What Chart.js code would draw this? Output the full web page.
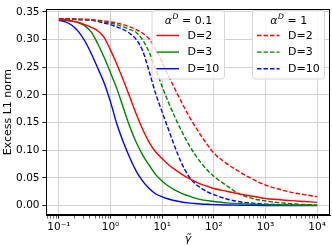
<!DOCTYPE html>
<html>
<head>
<meta charset="utf-8">
<script src="https://cdn.jsdelivr.net/npm/chart.js@4.4.0/dist/chart.umd.min.js"></script>
<style>
  html, body { margin: 0; padding: 0; background: #fff; }
  #wrap { width: 332px; height: 246px; }
</style>
</head>
<body>
<div id="wrap"><canvas id="myChart" width="332" height="246"></canvas></div>
<script>
// gamma tilde sample points (log axis)
var gamma = [0.1, 0.133, 0.178, 0.237, 0.316, 0.422, 0.562, 0.75, 1, 1.33, 1.78, 2.37, 3.16, 4.22, 5.62, 7.5,
  10, 13.3, 17.8, 23.7, 31.6, 42.2, 56.2, 75, 100, 178, 316, 562, 1000, 1778, 3162, 5623, 10000];

// alpha^D = 0.1 (solid)
var lowD2 = [0.337, 0.336, 0.334, 0.331, 0.327, 0.322, 0.316, 0.304, 0.281, 0.255, 0.226, 0.196, 0.165, 0.137, 0.114, 0.097,
  0.085, 0.074, 0.065, 0.057, 0.050, 0.044, 0.039, 0.035, 0.031, 0.026, 0.021, 0.017, 0.013, 0.011, 0.009, 0.0075, 0.006];
var lowD3 = [0.336, 0.335, 0.333, 0.331, 0.325, 0.314, 0.293, 0.268, 0.240, 0.211, 0.176, 0.142, 0.114, 0.091, 0.073, 0.056,
  0.044, 0.035, 0.028, 0.022, 0.018, 0.014, 0.011, 0.009, 0.0075, 0.005, 0.0035, 0.0025, 0.0018, 0.0013, 0.001, 0.0007, 0.0005];
var lowD10 = [0.335, 0.332, 0.326, 0.315, 0.298, 0.275, 0.249, 0.222, 0.187, 0.147, 0.114, 0.086, 0.062, 0.044, 0.031, 0.021,
  0.016, 0.012, 0.0088, 0.0066, 0.005, 0.0039, 0.003, 0.0024, 0.0019, 0.0012, 0.0008, 0.0005, 0.0003, 0.0002, 0.0001, 0.0001, 0.0001];

// alpha^D = 1 (dashed)
var highD2 = [0.338, 0.338, 0.338, 0.337, 0.337, 0.336, 0.335, 0.334, 0.332, 0.330, 0.327, 0.323, 0.318, 0.311, 0.301, 0.282,
  0.259, 0.234, 0.210, 0.187, 0.165, 0.145, 0.127, 0.110, 0.095, 0.076, 0.061, 0.048, 0.037, 0.030, 0.024, 0.020, 0.016];
var highD3 = [0.338, 0.338, 0.337, 0.337, 0.336, 0.335, 0.334, 0.332, 0.330, 0.327, 0.323, 0.318, 0.313, 0.299, 0.277, 0.247,
  0.215, 0.186, 0.159, 0.135, 0.113, 0.094, 0.078, 0.064, 0.053, 0.036, 0.021, 0.013, 0.0085, 0.0055, 0.0035, 0.002, 0.0012];
var highD10 = [0.337, 0.337, 0.337, 0.336, 0.336, 0.335, 0.333, 0.330, 0.327, 0.323, 0.318, 0.311, 0.300, 0.279, 0.242, 0.202,
  0.169, 0.137, 0.105, 0.077, 0.055, 0.041, 0.032, 0.025, 0.020, 0.012, 0.007, 0.0045, 0.0028, 0.0018, 0.0011, 0.0007, 0.0004];

var dLabels = ['D=2', 'D=3', 'D=10'];
var alphaValues = ['0.1', '1'];
var xMajor = [0.1, 1, 10, 100, 1000, 10000];
var xTickLabels = ['10\u207B\u00B9', '10\u2070', '10\u00B9', '10\u00B2', '10\u00B3', '10\u2074'];
var yTicks = [0, 0.05, 0.10, 0.15, 0.20, 0.25, 0.30, 0.35];

var colors = ['#ff0000', '#008000', '#0000ff'];
var gridColor = '#d3d3d3';

function pts(values) {
  return gamma.map(function (g, i) { return { x: g, y: values[i] }; });
}

function line(label, values, color, dashed) {
  return {
    label: label,
    data: pts(values),
    borderColor: color,
    borderWidth: 1.4,
    borderDash: dashed ? [4.5, 2] : [],
    pointRadius: 0,
    fill: false,
    cubicInterpolationMode: 'monotone'
  };
}

Chart.defaults.font.family = '"DejaVu Sans", sans-serif';
Chart.defaults.color = '#000';

// frame around the plot area
var framePlugin = {
  id: 'frame',
  afterDraw: function (chart) {
    var a = chart.chartArea, ctx = chart.ctx;
    ctx.save();
    ctx.strokeStyle = '#000';
    ctx.lineWidth = 1;
    ctx.strokeRect(Math.round(a.left) + 0.5, Math.round(a.top) + 0.5,
      Math.round(a.right - a.left) - 1, Math.round(a.bottom - a.top) - 1);
    ctx.restore();
  }
};

function drawAlphaTitle(ctx, cx, cy, valueText) {
  var f = 11;
  var rest = ' = ' + valueText;
  ctx.font = 'italic ' + f + 'px "DejaVu Sans"';
  var wa = ctx.measureText('\u03B1').width;
  ctx.font = 'italic ' + (f * 0.7) + 'px "DejaVu Sans"';
  var wd = ctx.measureText('D').width;
  ctx.font = f + 'px "DejaVu Sans"';
  var wr = ctx.measureText(rest).width;
  var x = cx - (wa + wd + wr) / 2;
  var base = cy + 4;
  ctx.textBaseline = 'alphabetic';
  ctx.textAlign = 'left';
  ctx.font = 'italic ' + f + 'px "DejaVu Sans"';
  ctx.fillText('\u03B1', x, base);
  ctx.font = 'italic ' + (f * 0.7) + 'px "DejaVu Sans"';
  ctx.fillText('D', x + wa + 0.5, base - 4.5);
  ctx.font = f + 'px "DejaVu Sans"';
  ctx.fillText(rest, x + wa + wd + 0.5, base);
}

// two legend boxes, one per alpha^D value
var legendPlugin = {
  id: 'twoLegends',
  afterDraw: function (chart) {
    var ctx = chart.ctx;
    var boxes = [
      { left: 152, right: 224.5, items: [0, 1, 2], title: alphaValues[0] },
      { left: 252.5, right: 324.5, items: [3, 4, 5], title: alphaValues[1] }
    ];
    var top = 10.5, bottom = 79;
    boxes.forEach(function (b) {
      ctx.save();
      ctx.beginPath();
      if (ctx.roundRect) ctx.roundRect(b.left, top, b.right - b.left, bottom - top, 3);
      else ctx.rect(b.left, top, b.right - b.left, bottom - top);
      ctx.fillStyle = 'rgba(255,255,255,0.8)';
      ctx.fill();
      ctx.strokeStyle = '#d6d6d6';
      ctx.lineWidth = 1;
      ctx.stroke();
      ctx.fillStyle = '#000';
      drawAlphaTitle(ctx, (b.left + b.right) / 2, 19.5, b.title);
      b.items.forEach(function (di, k) {
        var ds = chart.data.datasets[di];
        var y = 35.5 + k * 16.6;
        ctx.beginPath();
        ctx.setLineDash(ds.borderDash);
        ctx.strokeStyle = ds.borderColor;
        ctx.lineWidth = 1.4;
        ctx.moveTo(b.left + 4.5, y);
        ctx.lineTo(b.left + 27, y);
        ctx.stroke();
        ctx.setLineDash([]);
        ctx.fillStyle = '#000';
        ctx.font = '11px "DejaVu Sans"';
        ctx.textBaseline = 'middle';
        ctx.textAlign = 'left';
        ctx.fillText(ds.label, b.left + 35.5, y + 0.5);
      });
      ctx.restore();
    });
  }
};

var ctx = document.getElementById('myChart').getContext('2d');

var myChart = new Chart(ctx, {
  type: 'line',
  data: {
    datasets: [
      line(dLabels[0], lowD2, colors[0], false),
      line(dLabels[1], lowD3, colors[1], false),
      line(dLabels[2], lowD10, colors[2], false),
      line(dLabels[0], highD2, colors[0], true),
      line(dLabels[1], highD3, colors[1], true),
      line(dLabels[2], highD10, colors[2], true)
    ]
  },
  plugins: [framePlugin, legendPlugin],
  options: {
    responsive: false,
    animation: false,
    layout: { padding: { top: 4, right: 2, bottom: 0, left: 0 } },
    plugins: {
      legend: { display: false },
      tooltip: { enabled: false }
    },
    scales: {
      x: {
        type: 'logarithmic',
        min: Math.pow(10, -1.25),
        max: Math.pow(10, 4.25),
        afterBuildTicks: function (scale) {
          var t = [];
          for (var e = -2; e <= 4; e++) {
            for (var k = 1; k <= 9; k++) {
              var v = k * Math.pow(10, e);
              if (k === 1 && xMajor.indexOf(v) >= 0) {
                t.push({ value: v, major: true });
              } else {
                v = parseFloat(v.toPrecision(3));
                t.push({ value: v, major: false });
              }
            }
          }
          scale.ticks = t.filter(function (tk) { return tk.value >= scale.min && tk.value <= scale.max; });
        },
        afterFit: function (scale) { scale.height = 31; },
        ticks: {
          autoSkip: false,
          maxRotation: 0,
          padding: 2,
          font: { size: 10.5 },
          color: '#000',
          callback: function (value) {
            var i = xMajor.indexOf(value);
            return i >= 0 ? xTickLabels[i] : '';
          }
        },
        grid: {
          color: function (c) { return c.tick && c.tick.major ? gridColor : 'rgba(0,0,0,0)'; },
          lineWidth: 1,
          tickColor: '#000',
          tickLength: 3.5,
          tickWidth: function (c) { return c.tick && c.tick.major ? 0.9 : 0.6; }
        },
        border: { color: '#000', width: 1 },
        title: {
          display: true,
          text: '\u03B3\u0303',
          font: { size: 11, style: 'italic' },
          color: '#000',
          padding: { top: 0, bottom: 0 }
        }
      },
      y: {
        type: 'linear',
        min: -0.0169,
        max: 0.3548,
        afterBuildTicks: function (scale) {
          scale.ticks = yTicks.map(function (v) { return { value: v }; });
        },
        afterFit: function (scale) { scale.width = 46; },
        ticks: {
          padding: 3,
          font: { size: 10.5 },
          color: '#000',
          callback: function (value) { return value.toFixed(2); }
        },
        grid: {
          color: gridColor,
          lineWidth: 1,
          tickColor: '#000',
          tickLength: 3.5,
          tickWidth: 0.9
        },
        border: { color: '#000', width: 1 },
        title: {
          display: true,
          text: 'Excess L1 norm',
          font: { size: 11 },
          color: '#000',
          padding: { top: 2, bottom: 0 }
        }
      }
    }
  }
});
</script>
</body>
</html>
